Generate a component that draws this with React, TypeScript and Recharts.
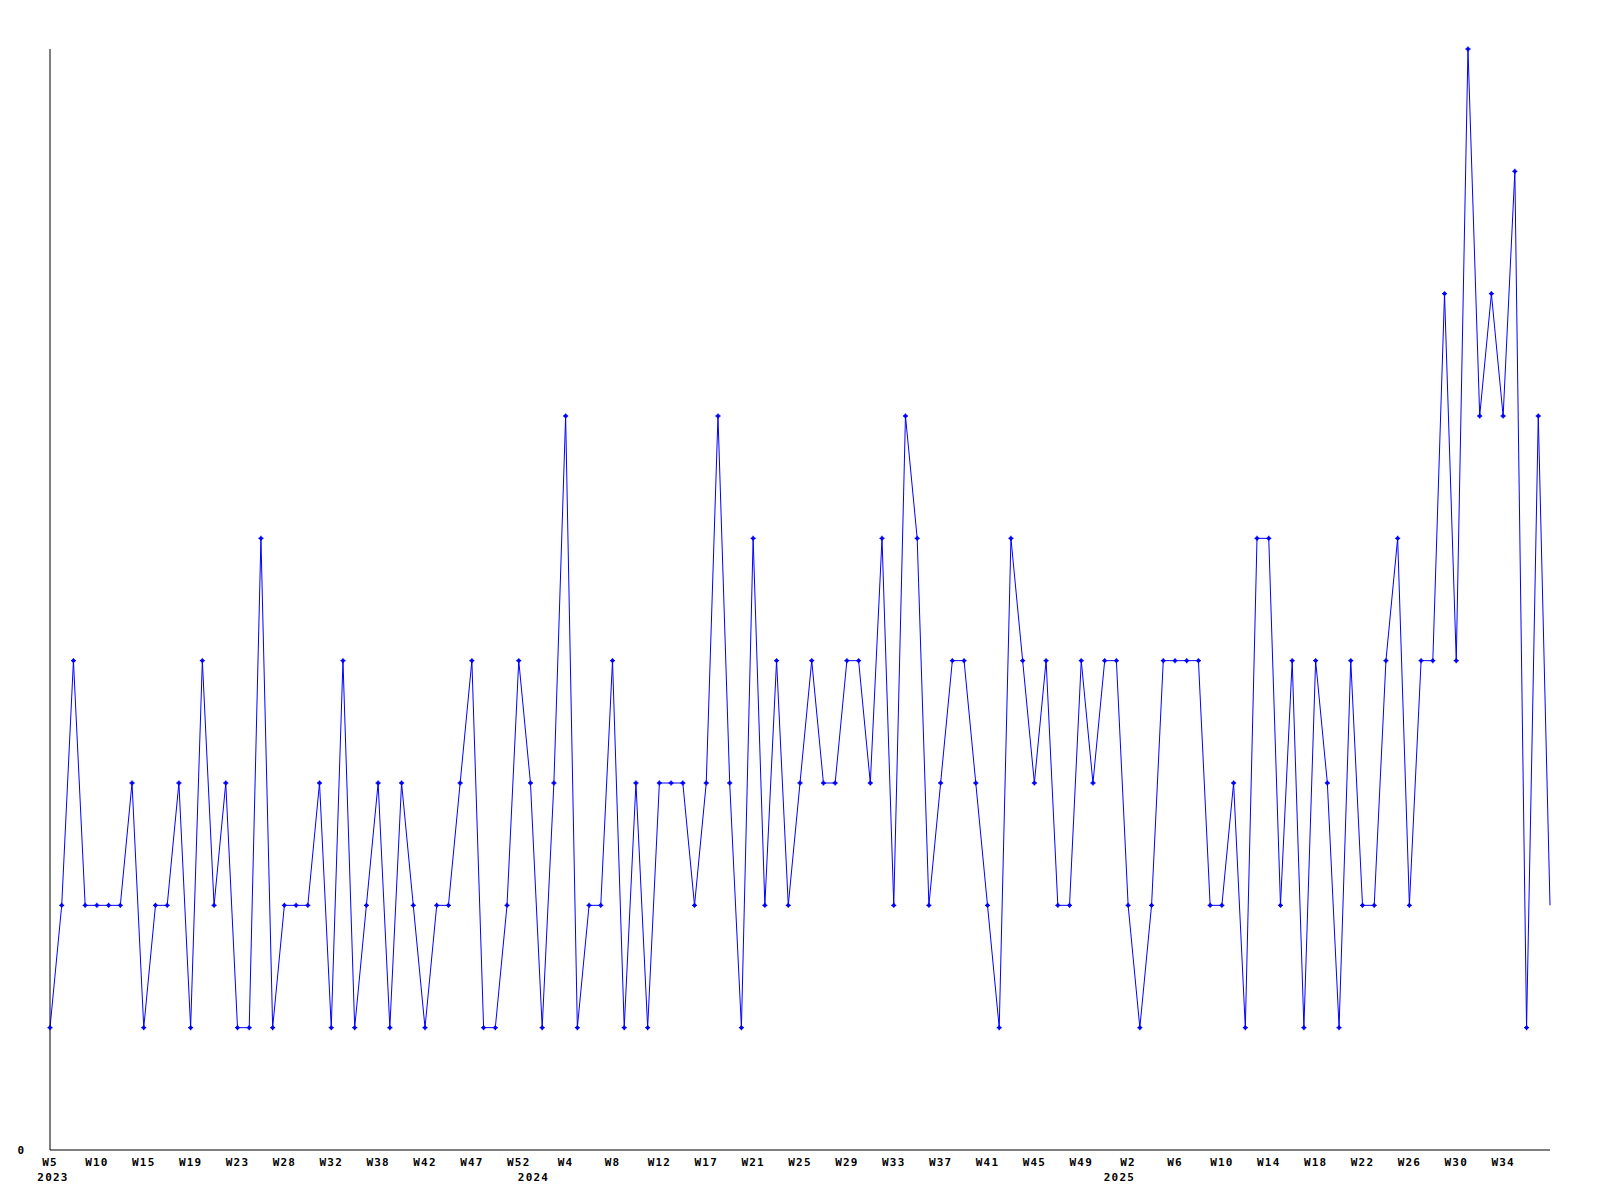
import { LineChart, Line, XAxis, YAxis } from "recharts";

// week labels per point (weeks with no data are missing in the source)
const weeks2023 = [
  "W5", "W6", "W7", "W8", "W10", "W11", "W12", "W13", "W15", "W16",
  "W17", "W18", "W19", "W20", "W21", "W22", "W23", "W24", "W25", "W26",
  "W28", "W29", "W30", "W31", "W32", "W33", "W35", "W36", "W38", "W39",
  "W40", "W41", "W42", "W43", "W44", "W46", "W47", "W48", "W49", "W51",
  "W52",
];
const weeks2024 = [
  "W1", "W2", "W3", "W4", "W5", "W6", "W7", "W8", "W9", "W10",
  "W11", "W12", "W13", "W14", "W16", "W17", "W18", "W19", "W20", "W21",
  "W22", "W23", "W24", "W25", "W26", "W27", "W28", "W29", "W30", "W31",
  "W32", "W33", "W34", "W35", "W36", "W37", "W38", "W39", "W40", "W41",
  "W42", "W43", "W44", "W45", "W46", "W47", "W48", "W49", "W50", "W51",
];
const weeks2025 = [
  "W1", "W2", "W3", "W4", "W5", "W6", "W7", "W8", "W9", "W10",
  "W11", "W12", "W13", "W14", "W15", "W16", "W17", "W18", "W19", "W20",
  "W21", "W22", "W23", "W24", "W25", "W26", "W27", "W28", "W29", "W30",
  "W31", "W32", "W33", "W34", "W35", "W36", "W37", "W38",
];

const counts = [
  1, 2, 4, 2, 2, 2, 2, 3, 1, 2,
  2, 3, 1, 4, 2, 3, 1, 1, 5, 1,
  2, 2, 2, 3, 1, 4, 1, 2, 3, 1,
  3, 2, 1, 2, 2, 3, 4, 1, 1, 2,
  4, 3, 1, 3, 6, 1, 2, 2, 4, 1,
  3, 1, 3, 3, 3, 2, 3, 6, 3, 1,
  5, 2, 4, 2, 3, 4, 3, 3, 4, 4,
  3, 5, 2, 6, 5, 2, 3, 4, 4, 3,
  2, 1, 5, 4, 3, 4, 2, 2, 4, 3,
  4, 4, 2, 1, 2, 4, 4, 4, 4, 2,
  2, 3, 1, 5, 5, 2, 4, 1, 4, 3,
  1, 4, 2, 2, 4, 5, 2, 4, 4, 7,
  4, 9, 6, 7, 6, 8, 1, 6, 2,
];

const yTicks = [0];

const data = [
  ...weeks2023.map((w, i) => ({ year: 2023, week: w, first: i === 0 })),
  ...weeks2024.map((w, i) => ({ year: 2024, week: w, first: i === 0 })),
  ...weeks2025.map((w, i) => ({ year: 2025, week: w, first: i === 0 })),
].map((d, i) => ({ ...d, key: `${d.year}-${d.week}`, count: counts[i] }));

const FONT = "'DejaVu Sans Mono', monospace";

function WeekTick(props: any) {
  const { x, y, payload } = props;
  const i = payload.index;
  const d = data[i];
  const showWeek = i % 4 === 0 && i < data.length - 1;
  return (
    <g>
      {showWeek && (
        <text x={x} y={y + 16} textAnchor="middle" fontFamily={FONT} fontWeight="bold" fontSize={11} letterSpacing={1.2} fill="#000">
          {d.week}
        </text>
      )}
      {d.first && (
        <text x={x + 3} y={y + 31} textAnchor="middle" fontFamily={FONT} fontWeight="bold" fontSize={11} letterSpacing={1.2} fill="#000">
          {d.year}
        </text>
      )}
    </g>
  );
}

function CountTick(props: any) {
  const { x, y, payload } = props;
  return (
    <text x={x - 26} y={y + 4} textAnchor="end" fontFamily={FONT} fontWeight="bold" fontSize={11} fill="#000">
      {payload.value}
    </text>
  );
}

function Marker(props: any) {
  const { cx, cy, index } = props;
  if (index === data.length - 1) return <g key={index} />;
  return (
    <g key={index}>
      <path d={`M${cx - 2.5},${cy}h5M${cx},${cy - 2.5}v5`} stroke="#0000ff" strokeWidth={1.3} />
      <rect x={cx - 1.5} y={cy - 1.5} width={3} height={3} fill="#0000ff" />
    </g>
  );
}

export default function App() {
  return (
    <LineChart width={1592} height={1192} data={data} margin={{ top: 41, right: 50, left: 12, bottom: 10 }}>
      <XAxis
        dataKey="key"
        height={40}
        interval={0}
        tickSize={0}
        tickMargin={0}
        tickLine={false}
        axisLine={{ stroke: "#000", strokeWidth: 1 }}
        tick={<WeekTick />}
      />
      <YAxis
        width={30}
        domain={[0, 9]}
        ticks={yTicks}
        tickSize={0}
        tickMargin={0}
        tickLine={false}
        axisLine={{ stroke: "#000", strokeWidth: 1 }}
        tick={<CountTick />}
      />
      <Line
        type="linear"
        dataKey="count"
        stroke="#0000ff"
        strokeWidth={1}
        dot={Marker}
        activeDot={false}
        isAnimationActive={false}
      />
    </LineChart>
  );
}
